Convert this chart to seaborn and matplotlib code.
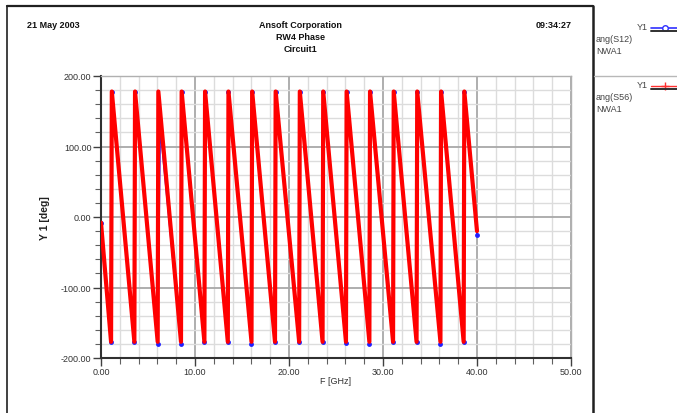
import matplotlib
matplotlib.use("Agg")
import matplotlib.pyplot as plt
from matplotlib.lines import Line2D
from matplotlib.ticker import MultipleLocator, FormatStrFormatter
import pandas as pd
import seaborn as sns

# Frequencies (GHz) where the phase wraps: last sample near -180 and first near +180
wrap_bottom_ghz = [1.07, 3.55, 6.03, 8.51, 11.00, 13.49, 16.01, 18.51,
                   21.08, 23.57, 26.06, 28.55, 31.07, 33.57, 36.11, 38.58]
s56_wrap_top_ghz = [1.15, 3.62, 6.10, 8.58, 11.07, 13.56, 16.08, 18.58,
                    21.15, 23.64, 26.13, 28.62, 31.14, 33.64, 36.18, 38.65]
s12_wrap_top_ghz = [1.15, 3.62, 6.30, 8.58, 11.07, 13.56, 16.08, 18.58,
                    21.15, 23.64, 26.13, 28.62, 31.14, 33.64, 36.18, 38.65]
start_ghz = 0.0
end_ghz = 40.0

# ang(S12) phase in degrees
s12_start_deg = -8.0
s12_end_deg = -25.0
s12_bottom_deg = [-177, -177, -180, -180, -177, -177, -180, -177,
                  -177, -177, -179, -180, -177, -177, -180, -177]
s12_top_deg = [178, 178, 127, 178, 178, 178, 178, 178,
               178, 178, 178, 178, 178, 178, 178, 178]

# ang(S56) phase in degrees
s56_start_deg = -8.0
s56_end_deg = -20.0
s56_bottom_deg = [-177, -177, -177, -177, -177, -177, -177, -177,
                  -177, -177, -177, -177, -177, -177, -177, -177]
s56_top_deg = [178, 178, 178, 178, 178, 178, 178, 178,
               178, 178, 178, 178, 178, 178, 178, 178]

x_ticks = [0, 10, 20, 30, 40, 50]
y_ticks = [-200, -100, 0, 100, 200]


def trace(name, start, tops_ghz, bottoms, tops, end):
    f = [start_ghz]
    p = [start]
    for fb, ft, pb, pt in zip(wrap_bottom_ghz, tops_ghz, bottoms, tops):
        f += [fb, ft]
        p += [pb, pt]
    f.append(end_ghz)
    p.append(end)
    return pd.DataFrame({"F": f, "phase": p, "trace": name})


df = pd.concat([
    trace("ang(S12)", s12_start_deg, s12_wrap_top_ghz, s12_bottom_deg,
          s12_top_deg, s12_end_deg),
    trace("ang(S56)", s56_start_deg, s56_wrap_top_ghz, s56_bottom_deg,
          s56_top_deg, s56_end_deg),
], ignore_index=True)

sns.set_style("white")
plt.rcParams["font.family"] = ["Liberation Sans", "DejaVu Sans"]

W, H = 677, 414
fig = plt.figure(figsize=(W / 100, H / 100), dpi=100)
ax = fig.add_axes([101 / W, 1 - 359 / H, 470 / W, 282 / H])

sns.lineplot(data=df[df["trace"] == "ang(S12)"], x="F", y="phase", ax=ax,
             sort=False, estimator=None, color="#2020ff", linewidth=1.2,
             marker="o", markersize=3.5, markeredgewidth=0, zorder=3)
sns.lineplot(data=df[df["trace"] == "ang(S56)"], x="F", y="phase", ax=ax,
             sort=False, estimator=None, color="#ff0000", linewidth=3.0,
             zorder=4)

ax.set_xlim(0, 50)
ax.set_ylim(-200, 200)
ax.set_xticks(x_ticks)
ax.set_yticks(y_ticks)
ax.xaxis.set_minor_locator(MultipleLocator(2))
ax.yaxis.set_minor_locator(MultipleLocator(20))
ax.xaxis.set_major_formatter(FormatStrFormatter("%.2f"))
ax.yaxis.set_major_formatter(FormatStrFormatter("%.2f"))

ax.grid(which="major", color="#a8a8a8", linewidth=1.3)
ax.grid(which="minor", color="#dcdcdc", linewidth=1.0)
ax.set_axisbelow(True)

for side in ("left", "bottom"):
    ax.spines[side].set_color("#303030")
    ax.spines[side].set_linewidth(1.5)
for side in ("top", "right"):
    ax.spines[side].set_color("#b0b0b0")
    ax.spines[side].set_linewidth(1.0)

ax.tick_params(which="major", direction="out", length=6, width=1,
               color="#404040", labelsize=6.5, labelcolor="#333333", pad=0.8,
               left=True, bottom=True)
ax.tick_params(which="minor", direction="out", length=4, width=0.8,
               color="#606060", left=True, bottom=True)

ax.set_xlabel("F [GHz]", fontsize=6.5, color="#333333")
ax.set_ylabel("Y 1 [deg]", fontsize=7.5, fontweight="bold", color="#222222")
ax.xaxis.set_label_coords(0.5, -(377 - 359) / 282)
ax.yaxis.set_label_coords(-(101 - 50) / 470, 0.5)


def fx(px):
    return px / W


def fy(py):
    return 1 - py / H


def fline(x0, y0, x1, y1, **kw):
    fig.add_artist(Line2D([fx(x0), fx(x1)], [fy(y0), fy(y1)],
                          transform=fig.transFigure, **kw))


# Page frame and legend divider
fline(7, 7, 593, 7, color="#202020", linewidth=1.6)
fline(7, 7, 7, 414, color="#202020", linewidth=1.2)
fline(593, 7, 593, 414, color="#202020", linewidth=1.8)
fline(594, 77, 677, 77, color="#b8b8b8", linewidth=1.0)

# Header
hdr = dict(fontsize=6.5, fontweight="bold", color="#111111", va="center")
fig.text(fx(27), fy(25), "21 May 2003", ha="left", **hdr)
fig.text(fx(300), fy(25), "Ansoft Corporation", ha="center", **hdr)
fig.text(fx(300), fy(38), "RW4 Phase", ha="center", **hdr)
fig.text(fx(300), fy(50), "Circuit1", ha="center", **hdr)
fig.text(fx(572), fy(25), "09:34:27", ha="right", **hdr)

# Trace legend panel
leg = dict(fontsize=6.5, color="#444444", va="center")
fig.text(fx(637), fy(28), "Y1", ha="left", **leg)
fline(651, 28.5, 677, 28.5, color="#3030ff", linewidth=1.2)
fig.add_artist(Line2D([fx(665)], [fy(28.5)], transform=fig.transFigure,
                      marker="o", markersize=4, markerfacecolor="white",
                      markeredgecolor="#3030ff", markeredgewidth=1.0))
fline(651, 32, 677, 32, color="#303030", linewidth=1.4)
fig.text(fx(596), fy(40), "ang(S12)", ha="left", **leg)
fig.text(fx(596), fy(52), "NWA1", ha="left", **leg)

fig.text(fx(637), fy(86), "Y1", ha="left", **leg)
fline(651, 86.5, 677, 86.5, color="#ff3030", linewidth=1.0)
fig.add_artist(Line2D([fx(665)], [fy(86.5)], transform=fig.transFigure,
                      marker="+", markersize=6, markeredgecolor="#ff3030",
                      markeredgewidth=1.0))
fline(651, 90, 677, 90, color="#303030", linewidth=1.4)
fig.text(fx(596), fy(98), "ang(S56)", ha="left", **leg)
fig.text(fx(596), fy(110), "NWA1", ha="left", **leg)

fig.savefig("out.png", dpi=100)
